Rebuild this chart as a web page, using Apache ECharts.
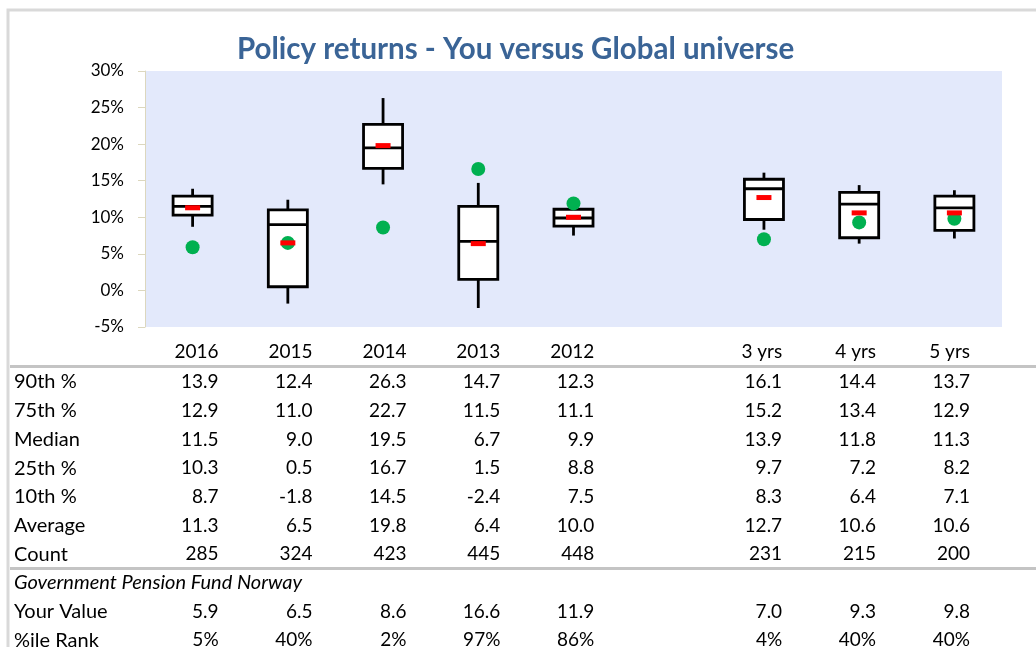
<!DOCTYPE html>
<html><head><meta charset="utf-8">
<script src="https://cdn.jsdelivr.net/npm/echarts@6/dist/echarts.min.js"></script>
<style>html,body{margin:0;padding:0;background:#fff;}#c{width:1036px;height:647px;}</style>
</head><body><div id="c"></div>
<script>
const titleText = 'Policy returns - You versus Global universe';
const categories = ['2016', '2015', '2014', '2013', '2012', '', '3 yrs', '4 yrs', '5 yrs'];
const p90 = [13.9, 12.4, 26.3, 14.7, 12.3, null, 16.1, 14.4, 13.7];
const p75 = [12.9, 11.0, 22.7, 11.5, 11.1, null, 15.2, 13.4, 12.9];
const median = [11.5, 9.0, 19.5, 6.7, 9.9, null, 13.9, 11.8, 11.3];
const p25 = [10.3, 0.5, 16.7, 1.5, 8.8, null, 9.7, 7.2, 8.2];
const p10 = [8.7, -1.8, 14.5, -2.4, 7.5, null, 8.3, 6.4, 7.1];
const average = [11.3, 6.5, 19.8, 6.4, 10.0, null, 12.7, 10.6, 10.6];
const count = [285, 324, 423, 445, 448, null, 231, 215, 200];
const yourValue = [5.9, 6.5, 8.6, 16.6, 11.9, null, 7.0, 9.3, 9.8];
const pctRank = ['5%', '40%', '2%', '97%', '86%', null, '4%', '40%', '40%'];
const yMin = -5, yMax = 30, yStep = 5;
const rowLabels = ['90th %', '75th %', 'Median', '25th %', '10th %', 'Average', 'Count', 'Government Pension Fund Norway', 'Your Value', '%ile Rank'];

const FONT = 'Lato, "Open Sans", sans-serif';
const chart = echarts.init(document.getElementById('c'), null, {renderer: 'canvas'});

const boxData = [];
categories.forEach((c, i) => {
  if (p90[i] != null) boxData.push([i, p10[i], p25[i], median[i], p75[i], p90[i]]);
});
const avgData = [], youData = [];
categories.forEach((c, i) => {
  if (average[i] != null) avgData.push([i, average[i]]);
  if (yourValue[i] != null) youData.push([i, yourValue[i]]);
});

function renderBox(params, api) {
  const x = api.value(0);
  const lo = api.coord([x, api.value(1)]);
  const q1 = api.coord([x, api.value(2)]);
  const md = api.coord([x, api.value(3)]);
  const q3 = api.coord([x, api.value(4)]);
  const hi = api.coord([x, api.value(5)]);
  const hw = api.size([1, 0])[0] * 0.205;
  const lw = 2.8;
  const st = {stroke: '#000', lineWidth: lw, fill: null};
  return {type: 'group', children: [
    {type: 'line', shape: {x1: hi[0], y1: hi[1], x2: q3[0], y2: q3[1]}, style: st},
    {type: 'line', shape: {x1: q1[0], y1: q1[1], x2: lo[0], y2: lo[1]}, style: st},
    {type: 'rect', shape: {x: q3[0] - hw, y: q3[1], width: hw * 2, height: q1[1] - q3[1]}, style: {stroke: '#000', lineWidth: lw, fill: '#fff'}},
    {type: 'line', shape: {x1: md[0] - hw, y1: md[1], x2: md[0] + hw, y2: md[1]}, style: st}
  ]};
}

chart.setOption({
  animation: false,
  title: {text: titleText, left: 232, top: 29, textStyle: {fontFamily: FONT, fontSize: 29.5, fontWeight: 'bold', color: '#3A6496'}},
  grid: {left: 145, top: 71, width: 857, height: 256, show: true, backgroundColor: '#E3E9FB', borderWidth: 0},
  xAxis: {type: 'category', data: categories, boundaryGap: true,
    axisLine: {show: false}, axisTick: {show: false}, axisLabel: {show: false}, splitLine: {show: false}},
  yAxis: {type: 'value', min: yMin, max: yMax, interval: yStep,
    axisLine: {show: true, lineStyle: {color: '#DCD7BE', width: 1}},
    axisTick: {show: true, length: 7, lineStyle: {color: '#DCD7BE'}},
    splitLine: {show: false},
    axisLabel: {formatter: '{value}%', fontFamily: FONT, fontSize: 17, color: '#000', margin: 21}},
  series: [
    {type: 'custom', renderItem: renderBox, data: boxData, z: 2, encode: {x: 0, y: [1, 2, 3, 4, 5]}},
    {type: 'scatter', data: youData, symbol: 'circle', symbolSize: 14, itemStyle: {color: '#00B050', opacity: 1}, z: 3},
    {type: 'scatter', data: avgData, symbol: 'rect', symbolSize: [15, 5], itemStyle: {color: '#FF0000', opacity: 1}, z: 4}
  ]
});

// table and frame
const g = [];
g.push({type: 'rect', shape: {x: 8, y: 10, width: 1040, height: 700}, style: {fill: null, stroke: '#D9D9D9', lineWidth: 3}, z: 0});
g.push({type: 'line', shape: {x1: 10, y1: 366.5, x2: 1036, y2: 366.5}, style: {stroke: '#C4C4C4', lineWidth: 3}});
g.push({type: 'line', shape: {x1: 10, y1: 568.5, x2: 1036, y2: 568.5}, style: {stroke: '#C4C4C4', lineWidth: 3}});

function txt(s, x, y, align, italic, size) {
  g.push({type: 'text', x: x, y: y, z: 10, style: {text: s, fontFamily: FONT, fontSize: size || 19, fontStyle: italic ? 'italic' : 'normal', fill: '#000', align: align, verticalAlign: 'middle'}});
}
const rowY0 = 382, rowStep = 28.7;
const fmt1 = v => v == null ? '' : v.toFixed(1);
const rows = [
  [p90, fmt1], [p75, fmt1], [median, fmt1], [p25, fmt1], [p10, fmt1], [average, fmt1],
  [count, v => v == null ? '' : String(v)], null, [yourValue, fmt1], [pctRank, v => v == null ? '' : v]
];
rowLabels.forEach((lab, r) => txt(lab, 14, rowY0 + r * rowStep, 'left', r === 7, 20));
categories.forEach((c, i) => {
  const cx = chart.convertToPixel({xAxisIndex: 0}, i);
  const rx = cx + 26 - 1.3 * i;
  txt(c, rx, 352, 'right', false);
  rows.forEach((row, r) => {
    if (!row) return;
    const s = row[1](row[0][i]);
    if (s) txt(s, rx, rowY0 + r * rowStep, 'right', false);
  });
});
chart.setOption({graphic: g});
</script></body></html>
